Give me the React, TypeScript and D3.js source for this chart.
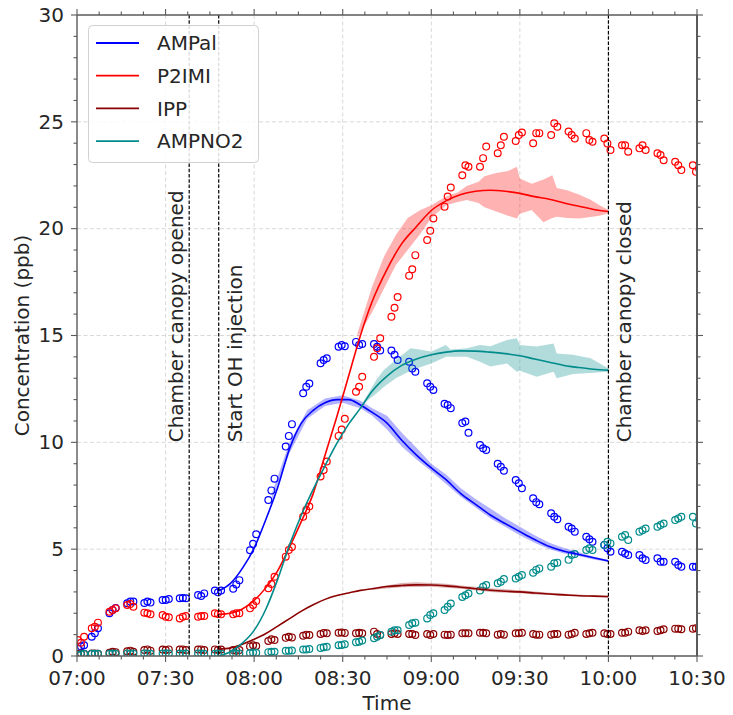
import React from "react";
import * as d3 from "d3";

// ---------- data (minutes after 07:00) ----------
const xTickLabels = ["07:00", "07:30", "08:00", "08:30", "09:00", "09:30", "10:00", "10:30"];
const yTickValues = [0, 5, 10, 15, 20, 25, 30];

const clusterStart = [0.3, 5, 11, 17, 22.8, 29, 34.8, 41, 46.7, 52.9, 58.6, 64.8, 70.7, 76.6, 82.5, 88.6, 94.5, 100.6, 106.5, 112.5, 118.6, 124.5, 130.5, 136.5, 142.5, 148.6, 154.5, 160.6, 166.5, 172.5, 178.6, 184.6, 190.5, 196.6, 202.6, 208.6];
const clusterStep = 1.05;

const ampalObs = [
  [0.35, 0.45, 0.5], [0.9, 1.07, 1.3], [2.0, 2.15, 2.25], [2.47, 2.55, 2.55], [2.48, 2.55, 2.5], [2.62, 2.62, 2.67],
  [2.7, 2.72, 2.7], [2.85, 2.81, 2.93], [3.06, 2.98, 3.06], [3.15, 3.35, 3.55], [4.95, 5.25, 5.7], [7.3, 7.75, 8.3],
  [9.8, 10.3, 10.85], [12.3, 12.6, 12.75], [13.7, 13.85, 13.93], [14.47, 14.55, 14.5], [14.7, 14.55, 14.6], [14.6, 14.47, 14.3],
  [14.3, 14.1, 13.85], [13.77, 13.46, 13.3], [12.76, 12.6, 12.45], [11.8, 11.75, 11.6], [10.9, 10.97, 10.45], [9.87, 9.72, 9.64],
  [9.0, 8.86, 8.67], [8.24, 8.08, 7.85], [7.38, 7.2, 7.1], [6.68, 6.52, 6.4], [6.05, 5.97, 5.82], [5.58, 5.46, 5.35],
  [5.2, 5.04, 4.88], [4.88, 4.8, 4.73], [4.73, 4.57, 4.49], [4.57, 4.41, 4.41], [4.41, 4.26, 4.18], [4.18, 4.18, 4.15],
];
const p2imiObs = [
  [0.75, 0.62, 0.9], [1.3, 1.37, 1.56], [2.07, 2.15, 2.23], [2.39, 2.43, 2.31], [2.03, 2.0, 1.95], [1.92, 1.84, 1.81],
  [1.76, 1.84, 1.87], [1.84, 1.87, 1.87], [2.0, 1.97, 1.95], [1.95, 2.0, 2.0], [2.23, 2.39, 2.57], [3.17, 3.37, 3.71],
  [4.65, 4.96, 5.1], [6.52, 6.83, 7.0], [8.4, 8.7, 9.1], [10.3, 10.6, 11.1], [12.37, 12.6, 13.07], [14.0, 14.4, 14.87],
  [15.88, 16.3, 16.8], [17.8, 18.1, 18.76], [19.47, 19.9, 20.48], [21.03, 21.5, 21.93], [22.5, 22.97, 22.9], [22.9, 23.3, 23.84],
  [23.53, 23.9, 24.3], [24.1, 24.38, 24.5], [24.0, 24.47, 24.47], [24.38, 24.93, 24.77], [24.55, 24.38, 24.22], [24.47, 24.15, 24.07],
  [24.22, 23.99, 23.68], [23.9, 23.9, 23.6], [23.76, 23.9, 23.68], [23.53, 23.45, 23.2], [23.13, 22.97, 22.74], [22.97, 22.66, 22.8],
];
const ippObs = [
  [0.1, 0.12, 0.1], [0.12, 0.12, 0.1], [0.15, 0.2, 0.18], [0.22, 0.25, 0.2], [0.28, 0.31, 0.25], [0.3, 0.28, 0.31],
  [0.3, 0.31, 0.28], [0.3, 0.31, 0.28], [0.31, 0.28, 0.3], [0.28, 0.25, 0.28], [0.45, 0.5, 0.47], [0.7, 0.78, 0.75],
  [0.85, 0.9, 0.87], [0.95, 1.0, 0.98], [1.03, 1.08, 1.06], [1.09, 1.1, 1.08], [1.06, 1.09, 1.06], [1.14, 1.03, 0.98],
  [1.03, 1.06, 1.03], [1.03, 1.03, 0.98], [1.03, 0.98, 1.03], [1.0, 0.98, 1.0], [1.06, 1.06, 1.06], [1.09, 1.09, 1.06],
  [1.0, 1.03, 1.0], [1.06, 1.06, 1.09], [1.03, 1.0, 1.0], [1.0, 1.03, 1.03], [1.0, 1.03, 1.09], [1.03, 1.06, 1.09],
  [1.06, 1.03, 1.03], [1.09, 1.09, 1.14], [1.2, 1.17, 1.2], [1.17, 1.2, 1.25], [1.28, 1.28, 1.25], [1.28, 1.3, 1.28],
];
const ampno2Obs = [
  [0.05, 0.08, 0.1], [0.1, 0.1, 0.1], [0.1, 0.12, 0.1], [0.12, 0.1, 0.12], [0.12, 0.12, 0.1], [0.12, 0.12, 0.12],
  [0.12, 0.1, 0.12], [0.12, 0.12, 0.1], [0.1, 0.12, 0.12], [0.12, 0.1, 0.12], [0.14, 0.16, 0.15], [0.18, 0.2, 0.2],
  [0.24, 0.25, 0.26], [0.3, 0.31, 0.33], [0.38, 0.41, 0.43], [0.5, 0.52, 0.55], [0.64, 0.67, 0.72], [0.83, 0.9, 0.98],
  [1.13, 1.2, 1.2], [1.45, 1.53, 1.56], [1.76, 1.92, 2.0], [2.15, 2.3, 2.46], [2.76, 2.84, 2.92], [3.07, 3.24, 3.32],
  [3.4, 3.48, 3.6], [3.63, 3.71, 3.79], [3.9, 4.03, 4.1], [4.18, 4.34, 4.37], [4.5, 4.73, 4.77], [4.96, 5.04, 4.96],
  [5.2, 5.35, 5.27], [5.58, 5.66, 5.43], [5.82, 5.89, 5.97], [6.05, 6.13, 6.2], [6.36, 6.44, 6.52], [6.52, 6.2, 6.4],
];

const modelT = [48, 52, 56, 60, 64, 68, 72, 76, 80, 84, 88, 92, 96, 100, 105, 110, 115, 120, 125, 130, 135, 140, 145, 150, 155, 160, 165, 170, 175, 180];
const ampalModel = [3.05, 3.4, 4.1, 5.05, 6.4, 7.9, 9.7, 10.9, 11.5, 11.85, 12.0, 12.0, 11.75, 11.4, 10.9, 10.1, 9.4, 8.8, 8.25, 7.6, 7.1, 6.6, 6.2, 5.82, 5.45, 5.12, 4.9, 4.75, 4.6, 4.45];
const p2imiModel = [1.95, 2.0, 2.2, 2.6, 3.2, 4.0, 5.1, 6.3, 7.6, 9.4, 11.2, 13.1, 15.0, 16.6, 18.1, 19.3, 20.1, 20.85, 21.3, 21.6, 21.75, 21.8, 21.75, 21.65, 21.5, 21.38, 21.2, 21.05, 20.9, 20.8];
const ippModel = [0.32, 0.38, 0.55, 0.78, 1.05, 1.4, 1.75, 2.1, 2.4, 2.65, 2.83, 2.95, 3.07, 3.15, 3.25, 3.3, 3.33, 3.32, 3.28, 3.22, 3.15, 3.08, 3.03, 3.0, 2.95, 2.9, 2.86, 2.82, 2.8, 2.78];
const ampno2Model = [0.0, 0.2, 0.6, 1.2, 2.2, 3.6, 5.2, 6.6, 7.8, 8.9, 9.95, 10.85, 11.6, 12.4, 13.1, 13.6, 13.9, 14.1, 14.22, 14.28, 14.27, 14.22, 14.15, 14.05, 13.9, 13.75, 13.6, 13.5, 13.42, 13.38];

const ampalBandT = [66, 72, 78, 84, 90, 96, 100, 105, 110, 115, 120, 125, 130, 135, 140, 145, 150, 155, 160, 165, 170, 175, 180];
const ampalBandHi = [7.6, 10.0, 11.5, 12.05, 12.2, 11.95, 11.6, 11.25, 10.45, 9.75, 9.0, 8.5, 7.85, 7.35, 6.9, 6.45, 6.05, 5.65, 5.3, 5.05, 4.85, 4.65, 4.5];
const ampalBandLo = [7.3, 9.5, 11.1, 11.7, 11.85, 11.6, 11.25, 10.6, 9.8, 9.2, 8.65, 8.05, 7.45, 6.95, 6.45, 6.05, 5.65, 5.3, 5.0, 4.8, 4.68, 4.52, 4.4];

const p2imiBandT = [95, 100, 104, 108, 112, 116, 120, 125, 129, 132, 136, 138, 142, 146, 149, 150, 154, 158, 161, 162.5, 166, 170, 174, 177, 180];
const p2imiBandHi = [15.1, 17.3, 18.7, 19.7, 20.5, 20.85, 21.1, 21.5, 21.7, 22.0, 22.2, 22.45, 22.6, 22.7, 22.9, 22.35, 22.1, 22.3, 22.5, 21.9, 21.8, 21.6, 21.35, 21.1, 20.87];
const p2imiBandLo = [14.9, 16.1, 17.2, 18.3, 19.0, 19.7, 20.5, 21.1, 21.25, 21.34, 21.2, 21.0, 20.8, 20.6, 20.48, 20.7, 20.87, 20.3, 20.5, 20.56, 20.5, 20.48, 20.55, 20.6, 20.72];

const ippBandT = [100, 110, 115, 120, 125, 130, 140, 145, 150, 155, 160, 180];
const ippBandHi = [3.2, 3.42, 3.45, 3.42, 3.38, 3.3, 3.17, 3.12, 3.08, 3.02, 2.96, 2.8];
const ippBandLo = [3.1, 3.22, 3.23, 3.24, 3.2, 3.15, 3.0, 2.96, 2.94, 2.88, 2.85, 2.76];

const ampno2BandT = [97, 101.5, 104, 108, 113, 116, 120, 125, 126.5, 132, 136.5, 140, 145.6, 149, 150, 155.7, 161.4, 162.5, 168, 174, 180];
const ampno2BandHi = [11.9, 12.95, 13.4, 13.85, 14.4, 14.35, 14.25, 14.55, 14.35, 14.4, 14.55, 14.5, 14.79, 14.87, 14.55, 14.48, 14.63, 14.16, 14.1, 13.93, 13.46];
const ampno2BandLo = [11.8, 12.3, 12.6, 13.0, 13.35, 13.5, 13.69, 14.0, 14.0, 14.0, 13.77, 13.55, 13.69, 13.3, 13.35, 13.07, 13.3, 13.0, 13.2, 13.25, 13.3];

const eventTimes = [38, 48, 180];
const eventLabels = ["Chamber canopy opened", "Start OH injection", "Chamber canopy closed"];

const seriesNames = ["AMPal", "P2IMI", "IPP", "AMPNO2"];
const seriesColors = ["#0000ff", "#ff0000", "#8b0000", "#008b8b"];

// ---------- layout ----------
const W = 733, H = 715;
const L = 77, R = 697, T = 15, B = 656;
const FONT = "DejaVu Sans, sans-serif";
const TXT = "#262626";
const SPINE = "#5a5a5a";

export default function App() {
  const x = d3.scaleLinear().domain([0, 210]).range([L, R]);
  const y = d3.scaleLinear().domain([0, 30]).range([B, T]);

  const obs = [ampalObs, p2imiObs, ippObs, ampno2Obs];
  const models = [ampalModel, p2imiModel, ippModel, ampno2Model];
  const bands = [
    [ampalBandT, ampalBandLo, ampalBandHi],
    [p2imiBandT, p2imiBandLo, p2imiBandHi],
    [ippBandT, ippBandLo, ippBandHi],
    [ampno2BandT, ampno2BandLo, ampno2BandHi],
  ];

  const line = d3.line<[number, number]>().x(d => x(d[0])).y(d => y(d[1])).curve(d3.curveMonotoneX);
  const area = d3.area<[number, number, number]>().x(d => x(d[0])).y0(d => y(d[1])).y1(d => y(d[2])).curve(d3.curveLinear);

  const xMajor = d3.range(0, 211, 30);
  const xMinor = d3.range(0, 211, 7.5).filter(v => v % 30 !== 0);
  const yMinor = d3.range(0, 31, 1).filter(v => v % 5 !== 0);

  const legendRows = seriesNames.map((n, i) => ({ n, c: seriesColors[i], yy: 43 + i * 32.7 }));

  return (
    <svg width={W} height={H} style={{ position: "absolute", left: 0, top: 0, background: "#fff" }} fontFamily={FONT}>
      <defs>
        <clipPath id="plotClip">
          <rect x={L} y={T} width={R - L} height={B - T} />
        </clipPath>
      </defs>
      {/* grid */}
      <g stroke="#cfcfcf" strokeWidth={0.8} strokeDasharray="4,2.5">
        {xMajor.slice(1, -1).map(v => <line key={"gx" + v} x1={x(v)} x2={x(v)} y1={T} y2={B} />)}
        {yTickValues.slice(1, -1).map(v => <line key={"gy" + v} x1={L} x2={R} y1={y(v)} y2={y(v)} />)}
      </g>
      <g clipPath="url(#plotClip)">
        {/* observations */}
        {obs.map((series, si) => (
          <g key={"o" + si} fill="none" stroke={seriesColors[si]} strokeWidth={1.2}>
            {series.map((vals, ci) =>
              vals.map((v, k) => (
                <circle key={ci + "-" + k} cx={x(clusterStart[ci] + k * clusterStep)} cy={y(v)} r={3.4} />
              ))
            )}
          </g>
        ))}
        {/* bands */}
        {bands.map(([bt, lo, hi], si) => (
          <path key={"b" + si}
            d={area(bt.map((t, i) => [t, lo[i], hi[i]] as [number, number, number])) || ""}
            fill={seriesColors[si]} fillOpacity={0.3} stroke="none" />
        ))}
        {/* model lines */}
        {models.map((m, si) => (
          <path key={"m" + si} d={line(modelT.map((t, i) => [t, m[i]] as [number, number])) || ""}
            fill="none" stroke={seriesColors[si]} strokeWidth={1.6} />
        ))}
      </g>
      {/* event lines */}
      {eventTimes.map((t, i) => (
        <line key={"e" + i} x1={x(t)} x2={x(t)} y1={T} y2={B} stroke="#000" strokeWidth={1.2} strokeDasharray="3.5,1.8" />
      ))}
      {eventTimes.map((t, i) => {
        const bx = i === 0 ? x(t) - 6 : x(t) + 23;
        return (
          <text key={"et" + i} transform={`translate(${bx},${y(10)}) rotate(-90)`} fontSize={20} fill={TXT} textAnchor="start">
            {eventLabels[i]}
          </text>
        );
      })}
      {/* spines */}
      <g stroke={SPINE} fill="none">
        <line x1={L} x2={R} y1={B} y2={B} strokeWidth={1.4} />
        <line x1={L} x2={R} y1={T} y2={T} strokeWidth={1.4} />
        <line x1={L} x2={L} y1={T} y2={B} strokeWidth={1.4} />
        <line x1={R} x2={R} y1={T} y2={B} strokeWidth={2} />
      </g>
      {/* ticks */}
      <g stroke={SPINE} strokeWidth={1.1}>
        {xMajor.map(v => <line key={"xb" + v} x1={x(v)} x2={x(v)} y1={B} y2={B + 6} />)}
        {xMinor.map(v => <line key={"xbm" + v} x1={x(v)} x2={x(v)} y1={B} y2={B + 3.5} />)}
        {xMajor.map(v => <line key={"xt" + v} x1={x(v)} x2={x(v)} y1={T} y2={T - 6} />)}
        {xMinor.map(v => <line key={"xtm" + v} x1={x(v)} x2={x(v)} y1={T} y2={T - 3.5} />)}
        {yTickValues.map(v => <line key={"yl" + v} x1={L} x2={L - 6} y1={y(v)} y2={y(v)} />)}
        {yMinor.map(v => <line key={"ylm" + v} x1={L} x2={L - 3.5} y1={y(v)} y2={y(v)} />)}
        {yTickValues.map(v => <line key={"yr" + v} x1={R} x2={R + 6} y1={y(v)} y2={y(v)} />)}
        {yMinor.map(v => <line key={"yrm" + v} x1={R} x2={R + 3.5} y1={y(v)} y2={y(v)} />)}
      </g>
      {/* tick labels */}
      <g fontSize={20} fill={TXT}>
        {xMajor.map((v, i) => (
          <text key={"xl" + v} x={x(v)} y={685} textAnchor="middle">{xTickLabels[i]}</text>
        ))}
        {yTickValues.map(v => (
          <text key={"ylb" + v} x={L - 13} y={y(v)} dy="0.34em" textAnchor="end">{v}</text>
        ))}
      </g>
      <text x={(L + R) / 2} y={710} textAnchor="middle" fontSize={20} fill={TXT}>Time</text>
      <text transform={`translate(29,${(T + B) / 2}) rotate(-90)`} textAnchor="middle" fontSize={20} fill={TXT}>Concentration (ppb)</text>
      {/* legend */}
      <rect x={88.5} y={25.5} width={170} height={137} rx={4} fill="#fff" fillOpacity={0.85} stroke="#d0d0d0" strokeWidth={1} />
      {legendRows.map(r => (
        <g key={r.n}>
          <line x1={96} x2={139} y1={r.yy} y2={r.yy} stroke={r.c} strokeWidth={1.8} />
          <text x={157} y={r.yy} dy="0.36em" fontSize={20} fill={TXT}>{r.n}</text>
        </g>
      ))}
    </svg>
  );
}
